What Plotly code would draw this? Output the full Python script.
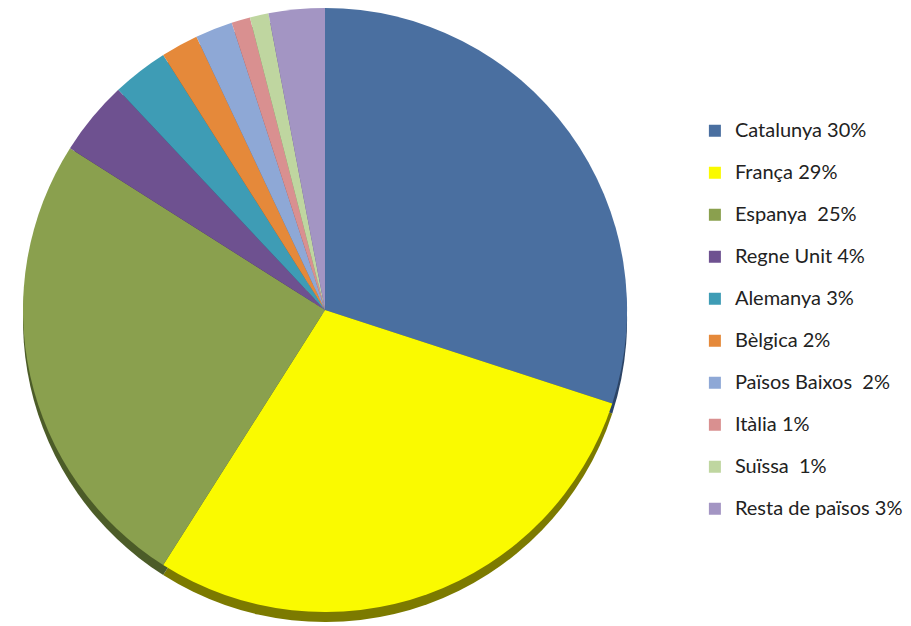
import plotly.graph_objects as go

countries = ["Catalunya 30%", "França 29%", "Espanya\u00a0 25%", "Regne Unit 4%", "Alemanya 3%",
             "Bèlgica 2%", "Països Baixos\u00a0 2%", "Itàlia 1%", "Suïssa\u00a0 1%", "Resta de països 3%"]
shares = [30, 29, 25, 4, 3, 2, 2, 1, 1, 3]
colors = ["#4A6FA0", "#FAFA00", "#8AA04E", "#6E5190", "#3E9CB5",
          "#E5893A", "#8EA8D6", "#D99090", "#BFD6A0", "#A395C3"]
rim_colors = ["#2C4466", "#7C7A00", "#4C5C28", "#3E2C55", "#1F5C6C",
              "#8A4E1C", "#506488", "#8A5050", "#6E8458", "#5E5280"]

labels = ['<span style="font-size:20px">' + c + "</span><br>\u00a0" for c in countries]

dom_x = [0.0005, 0.6955]
dom_y = [0.035, 1.0]

fig = go.Figure()
# 3D rim (same data, darker, drawn slightly lower, underneath)
fig.add_trace(go.Pie(
    labels=labels, values=shares, sort=False, direction="clockwise", rotation=0,
    marker=dict(colors=rim_colors, line=dict(width=0)), showlegend=False,
    textinfo="none", hoverinfo="skip",
    domain=dict(x=dom_x, y=[dom_y[0] - 0.016, dom_y[1] - 0.016]),
))
fig.add_trace(go.Pie(
    labels=labels, values=shares, sort=False, direction="clockwise", rotation=0,
    marker=dict(colors=colors, line=dict(width=0)),
    textinfo="none", domain=dict(x=dom_x, y=dom_y),
))
fig.update_layout(
    width=911, height=626, margin=dict(l=0, r=0, t=0, b=0),
    paper_bgcolor="white", plot_bgcolor="white",
    font=dict(family="Lato", size=15, color="#222"),
    legend=dict(x=0.754, xanchor="left", y=0.830, yanchor="top", valign="top",
                font=dict(family="Lato", size=15, color="#222")),
)
fig.write_html("out.html")
